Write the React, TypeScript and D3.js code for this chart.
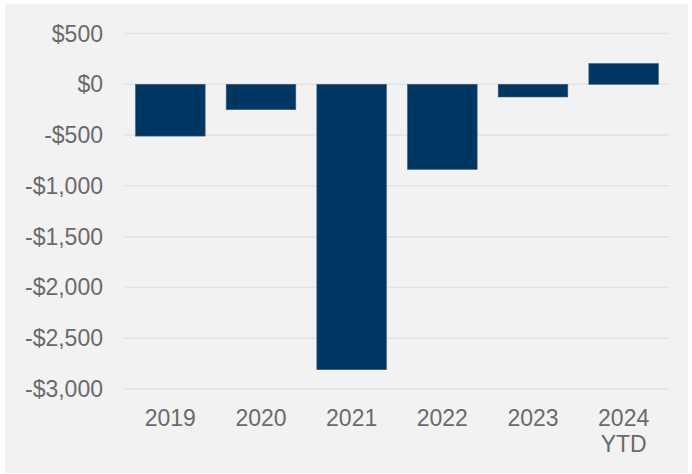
import React from "react";
import * as d3 from "d3";

const categories = ["2019", "2020", "2021", "2022", "2023", "2024\nYTD"];
const values = [-510, -250, -2810, -838, -125, 204];
const yTicks = [500, 0, -500, -1000, -1500, -2000, -2500, -3000];

const W = 692;
const H = 474;
const M = { left: 125, right: 23, top: 33.5, bottom: 85 };

export default function App() {
  const x = d3
    .scaleBand<string>()
    .domain(categories)
    .range([M.left, W - M.right])
    .paddingInner(0.232)
    .paddingOuter(0.116);
  const y = d3.scaleLinear().domain([500, -3000]).range([M.top, 389]);
  const fmt = (v: number) => (v < 0 ? "-$" : "$") + d3.format(",")(Math.abs(v));
  const textColor = "#6a6a6a";
  const fs = 23;
  return (
    <div style={{ position: "absolute", left: 0, top: 0 }}>
      <svg width={W} height={H} style={{ display: "block" }}>
        <rect x={0} y={0} width={W} height={H} fill="#ffffff" />
        <rect x={5} y={4} width={683} height={469} fill="#f2f2f2" />
        {yTicks.map((t) => (
          <g key={t}>
            <line x1={M.left} x2={W - M.right} y1={y(t)} y2={y(t)} stroke="#e2e2e2" strokeWidth={1.5} />
            <text
              x={103}
              y={y(t)}
              dy="0.35em"
              textAnchor="end"
              fontFamily="Liberation Sans, Arial, sans-serif"
              fontSize={fs}
              fill={textColor}
            >
              {fmt(t)}
            </text>
          </g>
        ))}
        {categories.map((c, i) => {
          const v = values[i];
          const y0 = y(Math.max(0, v));
          const y1 = y(Math.min(0, v));
          return (
            <rect
              key={c}
              x={x(c)!}
              y={y0}
              width={x.bandwidth()}
              height={y1 - y0}
              fill="#003662"
              stroke="#3a6287"
              strokeWidth={0.6}
            />
          );
        })}
        {categories.map((c) => {
          const lines = c.split("\n");
          return (
            <text
              key={c}
              x={x(c)! + x.bandwidth() / 2}
              y={425.5}
              textAnchor="middle"
              fontFamily="Liberation Sans, Arial, sans-serif"
              fontSize={fs}
              fill={textColor}
            >
              {lines.map((l, j) => (
                <tspan key={j} x={x(c)! + x.bandwidth() / 2} dy={j === 0 ? 0 : 26}>
                  {l}
                </tspan>
              ))}
            </text>
          );
        })}
      </svg>
    </div>
  );
}
